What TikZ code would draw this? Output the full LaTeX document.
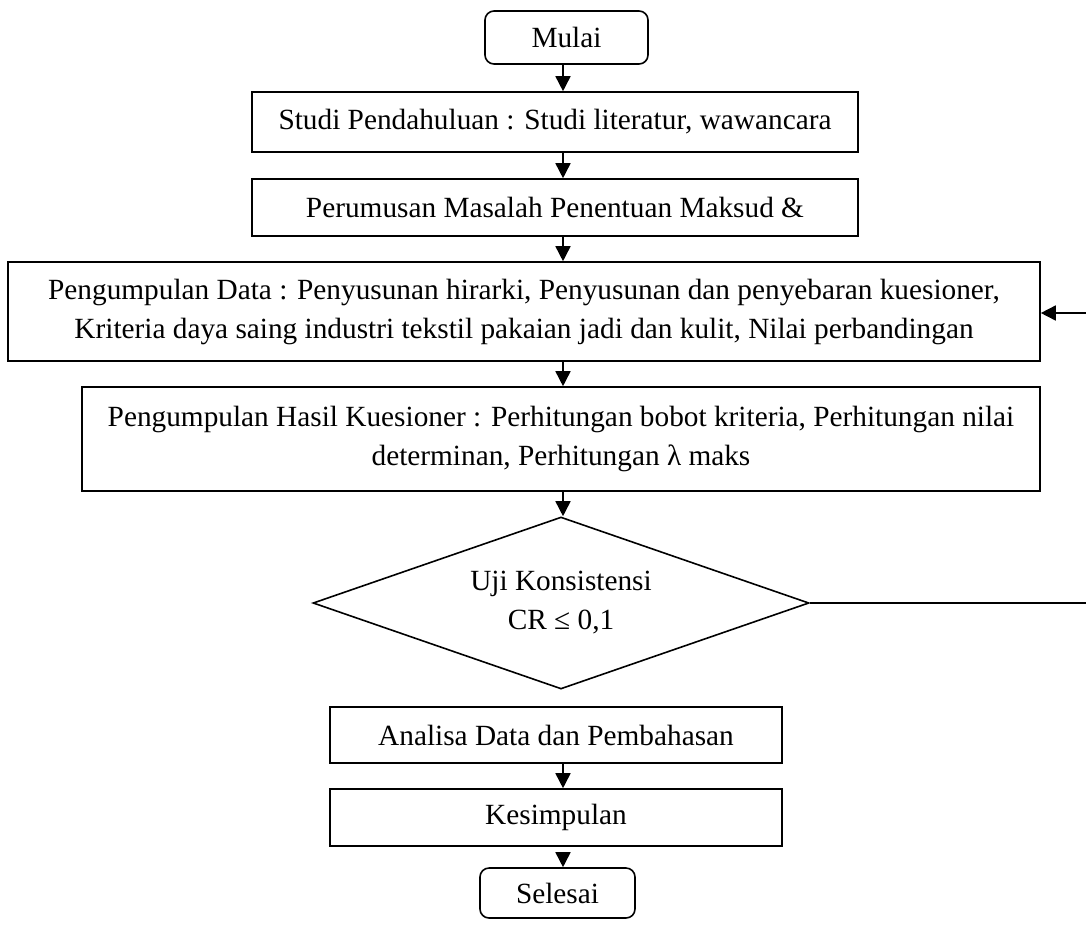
\documentclass[tikz,border=0pt]{standalone}
\usepackage{fontspec}
\setmainfont{Liberation Serif}
\usetikzlibrary{shapes.geometric,arrows.meta}
\begin{document}
\begin{tikzpicture}[x=1pt,y=-1pt,
  font=\fontsize{29.3}{39}\selectfont,
  line width=1.6pt,
  box/.style={draw,rectangle,inner sep=0pt,align=center},
  term/.style={draw,rectangle,rounded corners=9pt,inner sep=0pt},
  arr/.style={-{Triangle[length=15pt,width=15pt]}}]
\useasboundingbox (0,0) rectangle (1086,924);
\coordinate (ax) at (563,0);
\coordinate (fbd) at (1086,313);
\coordinate (fbu) at (1086,603);
\node[term,minimum width=163pt,minimum height=53pt] (mulai) at (566.5,37.5) {Mulai};
\node[box,minimum width=606pt,minimum height=60pt] (studi) at (555,122) {\raisebox{4pt}{Studi Pendahuluan : Studi literatur, wawancara}};
\node[box,minimum width=606pt,minimum height=57pt] (rumus) at (555,207.5) {Perumusan Masalah Penentuan Maksud \&};
\node[box,minimum width=1032pt,minimum height=99pt] (data) at (524,311.5) {Pengumpulan Data : Penyusunan hirarki, Penyusunan dan penyebaran kuesioner,\\Kriteria daya saing industri tekstil pakaian jadi dan kulit, Nilai perbandingan};
\node[box,minimum width=958pt,minimum height=104pt] (hasil) at (561,439) {Pengumpulan Hasil Kuesioner : Perhitungan bobot kriteria, Perhitungan nilai\\determinan, Perhitungan λ maks};
\node[draw,diamond,inner sep=0pt,aspect=2.88,minimum width=496pt,minimum height=172pt,align=center] (uji) at (561,603) {Uji Konsistensi\\CR ≤ 0,1};
\node[box,minimum width=452pt,minimum height=56pt] (analisa) at (556,735) {Analisa Data dan Pembahasan};
\node[box,minimum width=452pt,minimum height=57pt] (kes) at (556,817.5) {Kesimpulan};
\node[term,minimum width=155pt,minimum height=50pt] (selesai) at (557.5,893) {Selesai};
\draw[arr] (mulai.south -| ax) -- (studi.north -| ax);
\draw[arr] (studi.south -| ax) -- (rumus.north -| ax);
\draw[arr] (rumus.south -| ax) -- (data.north -| ax);
\draw[arr] (data.south -| ax) -- (hasil.north -| ax);
\draw[arr] (hasil.south -| ax) -- (uji.north -| ax);
\draw[arr] (analisa.south -| ax) -- (kes.north -| ax);
\draw[arr] ([yshift=-6pt]kes.south -| ax) -- (selesai.north -| ax);
\draw[arr] (fbd) -- (fbd -| data.east);
\draw (uji.east) -- (fbu);
\end{tikzpicture}
\end{document}
